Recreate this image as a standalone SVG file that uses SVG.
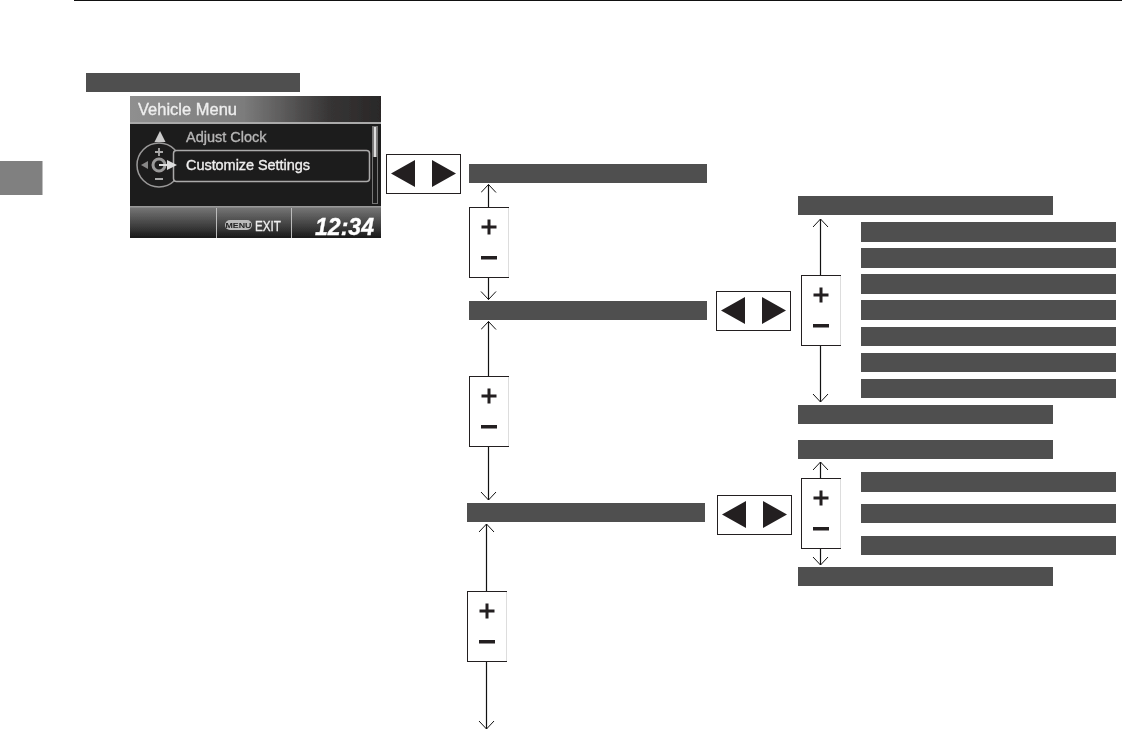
<svg xmlns="http://www.w3.org/2000/svg" width="1122" height="730" viewBox="0 0 1122 730">
<defs>
<style>
.bar{fill:#4f4f4f}
.box{fill:#fff;stroke:#231f20;stroke-width:1}
.edge{stroke:#ddd;stroke-width:1;fill:none}
.glyph{fill:#231f20}
.conn{fill:none;stroke:#111;stroke-width:1.200;marker-end:url(#open)}
.st{font-family:"Liberation Sans",Arial,sans-serif;fill:#eee;stroke:#eee;stroke-width:.35}
</style>
<filter id="soft" x="0" y="0" width="1" height="1"><feGaussianBlur stdDeviation=".45"/></filter>
<marker id="open" markerUnits="userSpaceOnUse" markerWidth="12" markerHeight="18" refX="9" refY="8" orient="auto"><path d="M1 0.500L9 8L1 15.500" fill="none" stroke="#111" stroke-width="1"/></marker>
<linearGradient id="title" x1="0" x2="1" y1="0" y2="0"><stop offset="0" stop-color="#8f8f8f"/><stop offset=".45" stop-color="#7c7c7c"/><stop offset=".8" stop-color="#363434"/><stop offset="1" stop-color="#2a2828"/></linearGradient>
<linearGradient id="foot" x1="0" x2="0" y1="0" y2="1"><stop offset="0" stop-color="#777"/><stop offset="1" stop-color="#1a1a1a"/></linearGradient>
<g id="pm"><rect class="box" x="0.500" y="0.500" width="39" height="70"/><path class="edge" d="M39.500 1V70"/><path class="glyph" d="M18.500 12.500h3v6h6v3h-6v6h-3v-6h-6v-3h6zM12 49h16v3.500H12z"/></g>
<g id="lr"><rect class="box" x="0.500" y="0.500" width="74" height="39"/><path class="glyph" d="M5 19.500L29 6V33ZM46 6L70 19.500L46 33Z"/></g>
</defs>
<rect width="1122" height="730" fill="#fff"/>
<rect id="top-rule" x="74" y="0" width="1048" height="1" fill="#111"/>
<rect id="side-tab" x="0" y="161" width="42.500" height="34" fill="#808080"/>
<rect id="heading" class="bar" x="86" y="73" width="214" height="19"/>
<g id="screen" filter="url(#soft)">
<rect x="130" y="96" width="251" height="142" fill="#1f1d1d"/>
<rect x="130" y="96" width="251" height="26" fill="url(#title)"/>
<rect x="130" y="122" width="251" height="2" fill="#aaa"/>
<rect x="130" y="207" width="251" height="31" fill="url(#foot)"/>
<rect x="130" y="206" width="251" height="1.500" fill="#999"/>
<path d="M216.500 208V238M291.500 208V238" stroke="#bbb" stroke-width="1"/>
<text class="st" x="138" y="115" font-size="17" textLength="99" lengthAdjust="spacingAndGlyphs">Vehicle Menu</text>
<path d="M160 131L165.500 142H154.500Z" fill="#ccc"/>
<text class="st" x="186" y="142" font-size="14.500" style="fill:#b5b5b5;stroke:#b5b5b5">Adjust Clock</text>
<circle cx="159" cy="165" r="22" fill="none" stroke="#999" stroke-width="1.500"/>
<rect x="173.500" y="150.500" width="196" height="31" rx="3" fill="#1f1d1d" stroke="#aaa" stroke-width="1.500"/>
<text class="st" x="186" y="170" font-size="14.500" textLength="124">Customize Settings</text>
<circle cx="159" cy="165" r="6" fill="none" stroke="#999" stroke-width="3"/>
<path d="M159 165H172" stroke="#ddd" stroke-width="2"/><path d="M167 160L177 165L167 170Z" fill="#ddd"/>
<path d="M141 165L148 161V169Z" fill="#888"/>
<path d="M155 152h8M159 148v8M155 179h8" stroke="#aaa" stroke-width="1.800" fill="none"/>
<rect x="372.500" y="126.500" width="5" height="77" fill="none" stroke="#777"/>
<rect x="373.500" y="127" width="3" height="30" fill="#ddd"/>
<rect x="225" y="220" width="27" height="10" rx="5" fill="#bbb"/>
<text x="225.500" y="228" font-family="Liberation Sans,Arial,sans-serif" font-size="7.500" font-weight="700" fill="#222" textLength="26" lengthAdjust="spacingAndGlyphs">MENU</text>
<text class="st" x="255" y="231" font-size="15" textLength="26" lengthAdjust="spacingAndGlyphs">EXIT</text>
<text class="st" x="315" y="235" font-size="24" font-weight="700" font-style="italic" textLength="59" lengthAdjust="spacingAndGlyphs" style="fill:#fff;stroke:#fff">12:34</text>
</g>
<g id="connectors">
<path class="conn" d="M488.500 207V184.500"/>
<path class="conn" d="M488.500 277V299.500"/>
<path class="conn" d="M488.500 376V321.500"/>
<path class="conn" d="M488.500 446V500"/>
<path class="conn" d="M486.500 591V524"/>
<path class="conn" d="M486.500 661V729"/>
<path class="conn" d="M820.500 275V219"/>
<path class="conn" d="M820.500 345V402"/>
<path class="conn" d="M820.500 478V462"/>
<path class="conn" d="M820.500 548V565"/>
</g>
<g id="nav-1"><use href="#lr" x="386" y="154"/></g>
<g id="nav-2"><use href="#lr" x="716" y="291"/></g>
<g id="nav-3"><use href="#lr" x="717" y="495"/></g>
<g id="pm-1"><use href="#pm" x="469" y="207"/></g>
<g id="pm-2"><use href="#pm" x="469" y="376"/></g>
<g id="pm-3"><use href="#pm" x="467" y="591"/></g>
<g id="pm-4"><use href="#pm" x="801" y="275"/></g>
<g id="pm-5"><use href="#pm" x="801" y="478"/></g>
<g id="level-1">
<rect class="bar" x="469" y="164" width="238" height="19"/>
<rect class="bar" x="469" y="301" width="238" height="19"/>
<rect class="bar" x="467" y="503" width="238" height="19"/>
</g>
<g id="level-2">
<rect class="bar" x="798" y="196" width="255" height="19"/>
<rect class="bar" x="798" y="405" width="255" height="19"/>
<rect class="bar" x="798" y="440" width="255" height="19"/>
<rect class="bar" x="798" y="567" width="255" height="19"/>
</g>
<g id="level-3">
<rect class="bar" x="861" y="222" width="255" height="20"/>
<rect class="bar" x="861" y="248" width="255" height="20"/>
<rect class="bar" x="861" y="274" width="255" height="20"/>
<rect class="bar" x="861" y="300" width="255" height="20"/>
<rect class="bar" x="861" y="327" width="255" height="19"/>
<rect class="bar" x="861" y="353" width="255" height="19"/>
<rect class="bar" x="861" y="379" width="255" height="19"/>
<rect class="bar" x="861" y="472" width="255" height="20"/>
<rect class="bar" x="861" y="504" width="255" height="19"/>
<rect class="bar" x="861" y="536" width="255" height="19"/>
</g>
</svg>
